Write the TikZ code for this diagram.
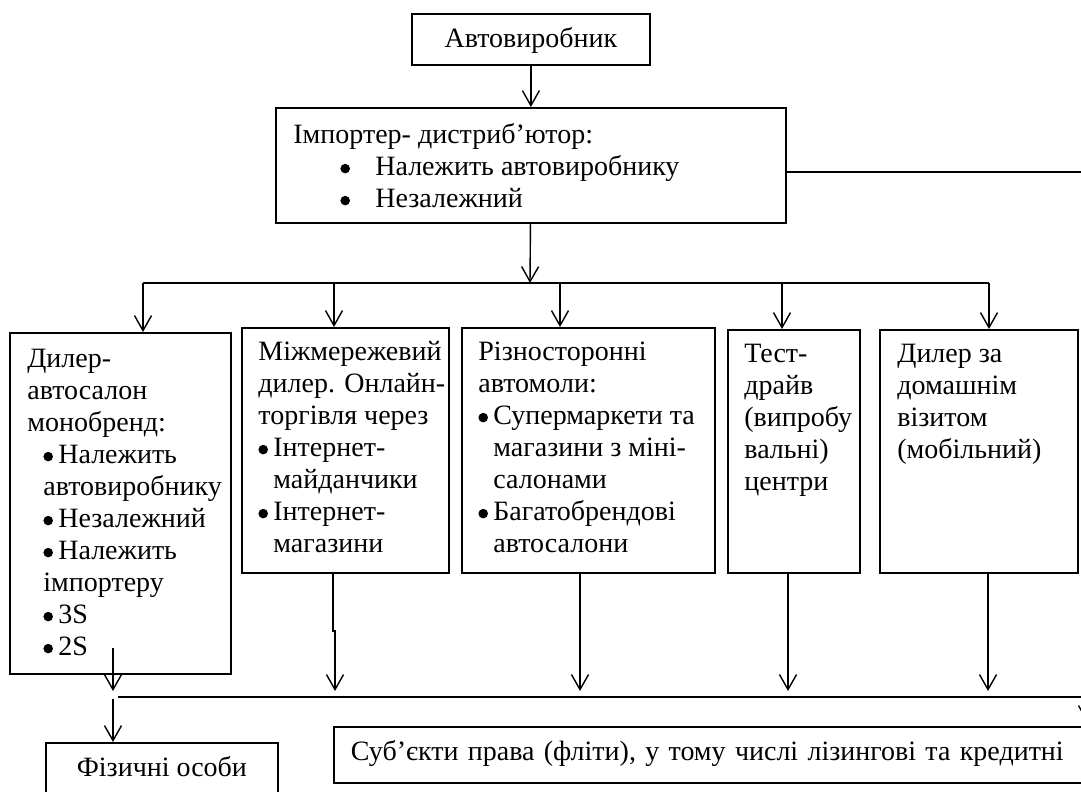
\documentclass[tikz,border=0pt]{standalone}
\usepackage{fontspec}
\setmainfont{Liberation Serif}
\usepackage{tikz}
\usetikzlibrary{arrows.meta}
\newcommand{\bigdot}{\tikz[baseline=-3.4pt]\fill (0,0) circle[radius=2.4pt];}
\newcommand{\bl}{\makebox[7.5pt][l]{\bigdot}}
\newcommand{\hang}{\hspace*{7.5pt}}

\begin{document}
\begin{tikzpicture}[
            x=0.5pt, y=-0.5pt,
            box/.style={draw, line width=0.9pt, inner sep=0pt, anchor=north west},
            txt/.style={anchor=north west, inner sep=0pt, align=left,
                        font=\fontsize{14pt}{16pt}\selectfont},
            arr/.style={line width=0.7pt, -{Straight Barb[length=7.5pt, width=8.5pt]}},
            link/.style={line width=0.7pt},
        ]
        \useasboundingbox (0,0) rectangle (1081,792);

        % Car maker (top)
        \node[box, minimum width=119pt, minimum height=25.5pt, text height=10pt, text depth=1.5pt,
              font=\fontsize{14pt}{16pt}\selectfont] (maker) at (411,13) {Автовиробник};

        % Importer - distributor
        \node[box, minimum width=255pt, minimum height=57.5pt] (importer) at (275,107) {};
        \node[txt] (importer_text) at (293,120.6) {\strut Імпортер- дистриб’ютор:\\
            \hspace*{23.5pt}\makebox[17.5pt][l]{\bigdot}Належить автовиробнику\\
            \hspace*{23.5pt}\makebox[17.5pt][l]{\bigdot}Незалежний};

        \draw[arr] (maker) -- (importer);

        % Line leaving to the right
        \coordinate (exit_r) at (1090,172);
        \draw[link] (importer.east |- exit_r) -- (exit_r);

        % Dealer boxes (second row)
        \node[box, minimum width=110.5pt, minimum height=170.5pt] (dealer) at (9,332) {};
        \node[txt] (dealer_text) at (27,344.6) {\strut Дилер-\\автосалон\\монобренд:\\
            \hspace*{8pt}\bl Належить\\\hspace*{8pt}автовиробнику\\
            \hspace*{8pt}\bl Незалежний\\
            \hspace*{8pt}\bl Належить\\\hspace*{8pt}імпортеру\\
            \hspace*{8pt}\bl 3S\\
            \hspace*{8pt}\bl 2S};

        \node[box, minimum width=103.5pt, minimum height=122.5pt] (online) at (241,327) {};
        \node[txt] (online_text) at (258,337.6) {\strut Міжмережевий\\дилер. Онлайн-\\торгівля через\\
            \bl Інтернет-\\\hang майданчики\\
            \bl Інтернет-\\\hang магазини};

        \node[box, minimum width=126.5pt, minimum height=122.5pt] (mall) at (461,327) {};
        \node[txt] (mall_text) at (478,337.6) {\strut Різносторонні\\автомоли:\\
            \bl Супермаркети та\\\hang магазини з міні-\\\hang салонами\\
            \bl Багатобрендові\\\hang автосалони};

        \node[box, minimum width=66pt, minimum height=121.5pt] (testdrive) at (727,329) {};
        \node[txt] (testdrive_text) at (744,339.6) {\strut Тест-\\драйв\\(випробу\\вальні)\\центри};

        \node[box, minimum width=99pt, minimum height=121.5pt] (home) at (879,329) {};
        \node[txt] (home_text) at (897,339.6) {\strut Дилер за\\домашнім\\візитом\\(мобільний)};

        % Upper distribution line
        \coordinate (bus_top) at (530,283);
        \coordinate (bus1) at (143,283);
        \coordinate (bus2) at (334,283);
        \coordinate (bus3) at (560,283);
        \coordinate (bus4) at (782,283);
        \coordinate (bus5) at (989,283);
        \draw[arr] (importer) -- (bus_top);
        \draw[link] (bus1) -- (bus5);
        \draw[arr] (bus1) -- (bus1 |- dealer.north);
        \draw[arr] (bus2) -- (bus2 |- online.north);
        \draw[arr] (bus3) -- (bus3 |- mall.north);
        \draw[arr] (bus4) -- (bus4 |- testdrive.north);
        \draw[arr] (bus5) -- (bus5 |- home.north);

        % Clients (bottom)
        \node[box, minimum width=116pt, minimum height=34pt, text height=6pt, text depth=6pt,
              font=\fontsize{14pt}{16pt}\selectfont] (person) at (45,742) {Фізичні особи};
        \node[box, minimum height=28pt, text width=366.5pt, inner xsep=8.5pt, align=left,
              text height=10pt, text depth=4pt,
              font=\fontsize{14pt}{16pt}\selectfont] (legal) at (333,726)
              {Суб’єкти права (фліти), у тому числі лізингові та кредитні};

        % Lower collecting line
        \coordinate (low_l) at (118,697);
        \coordinate (low_r) at (1090,697);
        \draw[link] (low_l) -- (low_r);

        \coordinate (dealer_out) at (113,648);
        \coordinate (dealer_tip) at (113,691);
        \draw[arr] (dealer_out) -- (dealer_tip);

        \coordinate (jog_a) at (333,631);
        \coordinate (jog_b) at (335,631);
        \draw[arr] (online.south -| jog_a) -- (jog_a) -- (jog_b) -- (jog_b |- dealer_tip);

        \coordinate (tip3) at (580,691);
        \coordinate (tip4) at (788,691);
        \coordinate (tip5) at (988,691);
        \draw[arr] (mall.south -| tip3) -- (tip3);
        \draw[arr] (testdrive.south -| tip4) -- (tip4);
        \draw[arr] (home.south -| tip5) -- (tip5);

        \coordinate (person_in) at (113,699);
        \draw[arr] (person_in) -- (person.north -| person_in);

        % Arrow cut by the right edge
        \coordinate (edge_a) at (1087,697);
        \coordinate (edge_b) at (1087,722);
        \draw[arr] (edge_a) -- (edge_b);

        \end{tikzpicture}
\end{document}
